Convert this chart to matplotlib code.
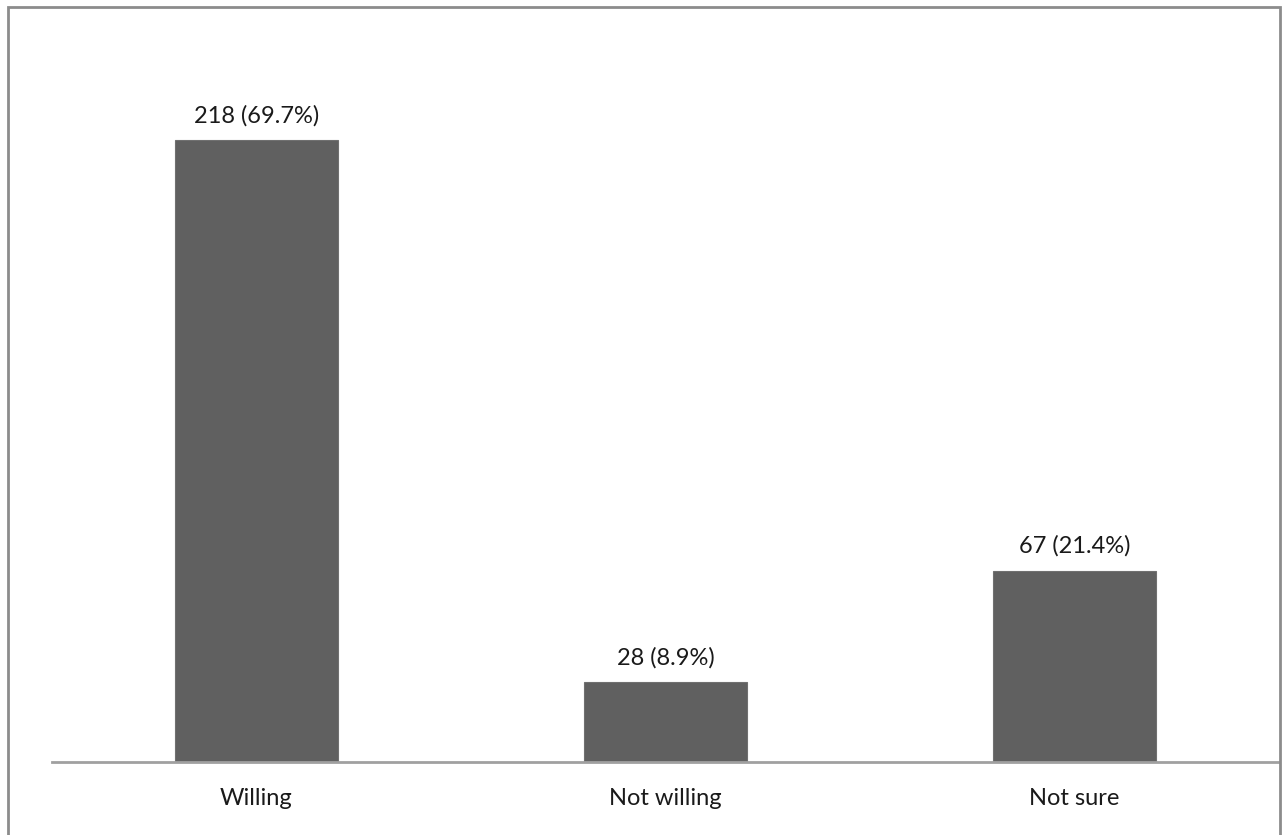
import matplotlib
matplotlib.use("Agg")
import matplotlib.pyplot as plt
from matplotlib.patches import Rectangle

categories = ["Willing", "Not willing", "Not sure"]
counts = [218, 28, 67]
labels = ["218 (69.7%)", "28 (8.9%)", "67 (21.4%)"]

plt.rcParams['font.family'] = ['Lato', 'DejaVu Sans']

W, H = 1282, 835
fig = plt.figure(figsize=(W/100, H/100), dpi=100)
ax = fig.add_axes([52/W, (H-762)/H, 1227/W, 713/H])

x = list(range(len(categories)))
ax.bar(x, counts, width=0.4, color="#606060", edgecolor="#707070", linewidth=0.8, zorder=2)
for xi, c, lab in zip(x, counts, labels):
    ax.annotate(lab, (xi, c), xytext=(0, 10), textcoords="offset points",
                ha="center", va="bottom", fontsize=17, color="#1a1a1a")

ax.set_xlim(-0.5, 2.5)
ax.set_ylim(0, 250)
ax.set_xticks(x)
ax.set_xticklabels(categories, fontsize=17, color="#1a1a1a")
ax.tick_params(axis="x", length=0, pad=19)
ax.set_yticks([])
for s in ["top", "right", "left"]:
    ax.spines[s].set_visible(False)
ax.spines["bottom"].set_color("#a0a0a0")
ax.spines["bottom"].set_linewidth(2)

fig.patches.append(Rectangle((8/W, -0.01), (1280-8)/W, (H-7)/H + 0.01,
                             transform=fig.transFigure, fill=False,
                             edgecolor="#8c8c8c", linewidth=2))

fig.savefig("out.png", dpi=100)
